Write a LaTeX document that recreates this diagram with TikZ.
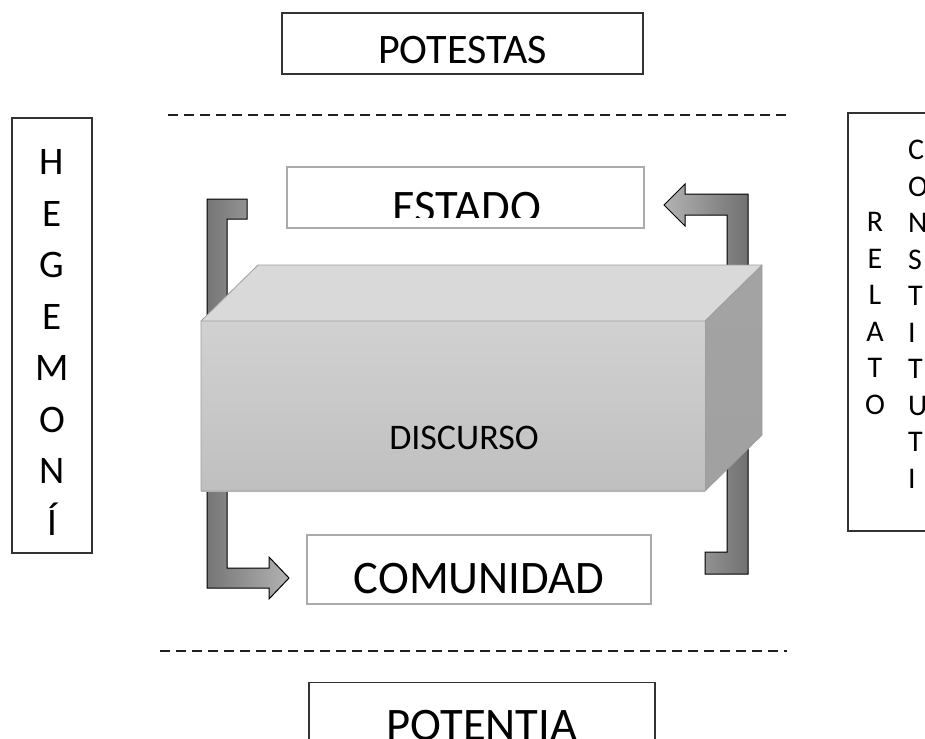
\documentclass[tikz,border=0pt]{standalone}
\usepackage{fontspec}
\setmainfont{Carlito}
\begin{document}
\begin{tikzpicture}[x=1pt,y=-1pt,
  framebox/.style={draw=black!80, line width=1.3pt, fill=white, inner sep=0pt},
  graybox/.style={draw=black!33, line width=2pt, fill=white, inner sep=0pt},
  sepline/.style={draw=black!88, line width=2pt, dash pattern=on 10pt off 6pt},
  bigtxt/.style={font=\fontsize{46.6}{56}\selectfont, inner sep=0pt, anchor=base},
  midtxt/.style={font=\fontsize{42}{50}\selectfont, inner sep=0pt, anchor=base},
  hegtxt/.style={font=\fontsize{39}{50}\selectfont, inner sep=0pt, anchor=base},
  reltxt/.style={font=\fontsize{30}{36}\selectfont, inner sep=0pt},
  blockarrow/.style={draw=black, line width=1pt},
  cubeedge/.style={draw=black!38, line width=0.8pt}
]
\clip (0,0) rectangle (925,738);
\fill[white] (0,0) rectangle (925,738);

% POTESTAS
\node[framebox, minimum width=361pt, minimum height=61pt] (potestasbox) at (462.5,43.5) {};
\node[midtxt] (potestas) at (462.5,64) {POTESTAS};

% dashed separators
\coordinate (topL) at (168,115);
\coordinate (topR) at (790,115);
\coordinate (botL) at (160,651);
\coordinate (botR) at (787,651);
\draw[sepline] (topL) -- (topR);
\draw[sepline] (botL) -- (botR);

% HEGEMONI box
\node[framebox, minimum width=80pt, minimum height=435pt] (hegbox) at (52,335.5) {};
\foreach \l [count=\i from 0] in {H,E,G,E,M,O,N,Í}
  \node[hegtxt] (heg\i) at (52,{174.5+51.5*\i}) {\l};

% RELATO / CONSTITUTI box
\node[framebox, minimum width=130pt, minimum height=418pt] (relbox) at (913,322) {};
\foreach \l [count=\i from 0] in {R,E,L,A,T,O}
  \node[reltxt, anchor=base] (rel\i) at (875,{231.5+36.5*\i}) {\l};
\foreach \l [count=\i from 0] in {C,O,N,S,T,I,T,U,T,I}
  \node[reltxt, anchor=base west] (con\i) at (908,{159.5+36.5*\i}) {\l};

% ESTADO box
\node[graybox, minimum width=357pt, minimum height=61pt] (estadobox) at (465.5,197.5) {};
\begin{scope}
  \clip (288,168) rectangle (643,217);
  \node[bigtxt] (estado) at (467,222.5) {ESTADO};
\end{scope}

% COMUNIDAD box
\node[graybox, minimum width=344pt, minimum height=69pt] (comunidadbox) at (479,569.5) {};
\node[bigtxt] (comunidad) at (479,593) {COMUNIDAD};

% POTENTIA box
\node[framebox, minimum width=346pt, minimum height=100pt, anchor=north] (potentiabox) at (482,682) {};
\node[bigtxt] (potentia) at (482,740) {POTENTIA};

% block arrows (behind the cube)
\draw[blockarrow, left color=black!54, right color=black!30]
  (207,199) -- (247,199) -- (247,219) -- (227,219) -- (227,568) -- (269,568)
  -- (269,557) -- (289,578) -- (269,599) -- (269,588) -- (207,588) -- cycle;
\draw[blockarrow, left color=black!30, right color=black!56]
  (748,574) -- (705,574) -- (705,552) -- (727,552) -- (727,215) -- (685,215)
  -- (685,226) -- (664,205) -- (685,184) -- (685,194) -- (748,194) -- cycle;

% cube
\coordinate (fTL) at (201,321);
\coordinate (fTR) at (705,321);
\coordinate (fBR) at (705,491);
\coordinate (fBL) at (201,491);
\coordinate (bTL) at (258,265);
\coordinate (bTR) at (762,265);
\coordinate (bBR) at (762,435);
\fill[black!15] (fTL) -- (bTL) -- (bTR) -- (fTR) -- cycle;
\shade[top color=black!36, bottom color=black!37] (fTR) -- (bTR) -- (bBR) -- (fBR) -- cycle;
\shade[top color=black!18, bottom color=black!25] (fTL) rectangle (fBR);
\draw[cubeedge] (fTL) -- (bTL) -- (bTR) -- (bBR) -- (fBR) -- (fBL) -- cycle;
\draw[cubeedge] (fTL) -- (fTR) -- (bTR);
\draw[cubeedge] (fTR) -- (fBR);
\node[font=\fontsize{36}{44}\selectfont, inner sep=0pt, anchor=base] (discurso) at (464,449) {DISCURSO};
\end{tikzpicture}
\end{document}
